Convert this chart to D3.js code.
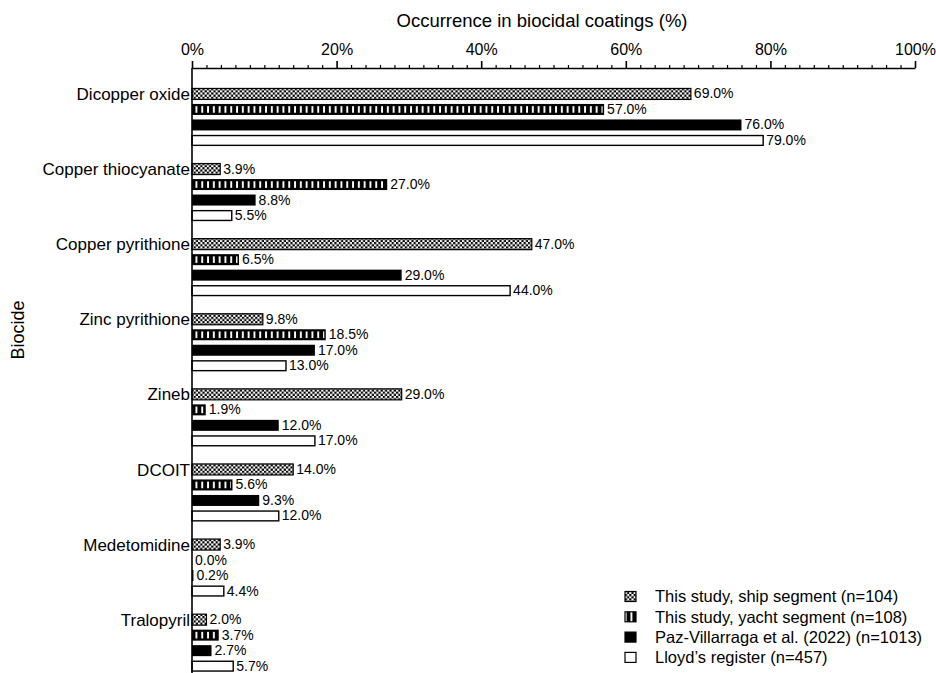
<!DOCTYPE html>
<html>
<head>
<meta charset="utf-8">
<script src="https://cdn.jsdelivr.net/npm/d3@7"></script>
<style>
  html, body { margin: 0; padding: 0; background: #fff; }
  svg { display: block; font-family: "Liberation Sans", Arial, Helvetica, sans-serif; }
</style>
</head>
<body>
<svg id="chart" width="936" height="673"></svg>
<script>
// Biocide occurrence data (%)
const biocides = ["Dicopper oxide", "Copper thiocyanate", "Copper pyrithione", "Zinc pyrithione",
                  "Zineb", "DCOIT", "Medetomidine", "Tralopyril"];
const seriesNames = ["This study, ship segment (n=104)", "This study, yacht segment (n=108)",
                     "Paz-Villarraga et al. (2022) (n=1013)", "Lloyd\u2019s register (n=457)"];
const shipSegment  = [69.0, 3.9, 47.0, 9.8, 29.0, 14.0, 3.9, 2.0];
const yachtSegment = [57.0, 27.0, 6.5, 18.5, 1.9, 5.6, 0.0, 3.7];
const pazVillarraga = [76.0, 8.8, 29.0, 17.0, 12.0, 9.3, 0.2, 2.7];
const lloydsRegister = [79.0, 5.5, 44.0, 13.0, 17.0, 12.0, 4.4, 5.7];
const xTickValues = [0, 20, 40, 60, 80, 100];

const seriesValues = [shipSegment, yachtSegment, pazVillarraga, lloydsRegister];
const seriesKeys = ["ship", "yacht", "paz", "lloyd"];

const svg = d3.select("#chart");
const defs = svg.append("defs");

// checkerboard fill
const checker = defs.append("pattern").attr("id", "pat-ship")
  .attr("patternUnits", "userSpaceOnUse").attr("width", 4.4).attr("height", 4.4);
checker.append("rect").attr("width", 4.4).attr("height", 4.4).attr("fill", "#fff");
checker.append("rect").attr("width", 2.2).attr("height", 2.2).attr("fill", "#000");
checker.append("rect").attr("x", 2.2).attr("y", 2.2).attr("width", 2.2).attr("height", 2.2).attr("fill", "#000");

// white vertical stripes over black
const stripes = defs.append("pattern").attr("id", "pat-yacht")
  .attr("patternUnits", "userSpaceOnUse").attr("x", 193.5).attr("width", 5.8).attr("height", 10);
stripes.append("rect").attr("width", 5.8).attr("height", 10).attr("fill", "#000");
stripes.append("rect").attr("x", 2).attr("width", 1.9).attr("height", 10).attr("fill", "#fff");

const x0 = 192, x1 = 915, axisY = 68;
const x = d3.scaleLinear().domain([0, 100]).range([x0, x1]);

const groupStep = 75.1;
const yGroup = d3.scaleBand().domain(biocides)
  .range([86.2, 86.2 + groupStep * biocides.length]).padding(0);
const ySeries = d3.scaleBand().domain(seriesKeys)
  .range([0, 62]).paddingInner(0.29).paddingOuter(0.145);

// top axis with major and minor ticks
const minorTicks = d3.range(0, 101, 2).filter(v => v % 20 !== 0);
svg.append("g").attr("transform", `translate(0,${axisY})`)
  .call(d3.axisTop(x).tickValues(minorTicks).tickSize(3).tickFormat(""))
  .call(g => g.select(".domain").remove())
  .call(g => g.selectAll("line").attr("stroke", "#000").attr("stroke-width", 1.2));

const xAxis = svg.append("g").attr("transform", `translate(0,${axisY})`)
  .call(d3.axisTop(x).tickValues(xTickValues).tickSize(7).tickSizeOuter(0).tickPadding(6)
    .tickFormat(d => d + "%"));
xAxis.select(".domain").attr("stroke", "#000").attr("stroke-width", 1.6);
xAxis.selectAll(".tick line").attr("stroke", "#000").attr("stroke-width", 1.6);
xAxis.selectAll(".tick text").attr("font-size", 16).attr("fill", "#000")
  .attr("font-family", "Liberation Sans, Arial, sans-serif");

svg.append("text").attr("x", 542).attr("y", 27).attr("text-anchor", "middle")
  .attr("font-size", 18.5).attr("fill", "#000").text("Occurrence in biocidal coatings (%)");

// bars
const rows = [];
biocides.forEach((b, i) => {
  seriesKeys.forEach((k, j) => rows.push({ biocide: b, key: k, value: seriesValues[j][i] }));
});

const barG = svg.append("g");
rows.forEach(d => {
  const y = yGroup(d.biocide) + ySeries(d.key);
  const h = ySeries.bandwidth();
  const w = x(d.value) - x(0);
  if (d.key === "ship") {
    barG.append("rect").attr("x", x(0)).attr("y", y).attr("width", w).attr("height", h)
      .attr("fill", "url(#pat-ship)").attr("stroke", "#000").attr("stroke-width", 1.2);
  } else if (d.key === "yacht") {
    barG.append("rect").attr("x", x(0)).attr("y", y).attr("width", w).attr("height", h)
      .attr("fill", "#000");
    if (w > 4) {
      barG.append("rect").attr("x", x(0) + 1.5).attr("y", y + 2.2)
        .attr("width", w - 3).attr("height", h - 4.4).attr("fill", "url(#pat-yacht)");
    }
  } else if (d.key === "paz") {
    barG.append("rect").attr("x", x(0)).attr("y", y).attr("width", w).attr("height", h)
      .attr("fill", "#000");
  } else {
    barG.append("rect").attr("x", x(0)).attr("y", y + 0.6).attr("width", w).attr("height", h - 1.2)
      .attr("fill", "#fff").attr("stroke", "#000").attr("stroke-width", 1.4);
  }
  barG.append("text").attr("x", x(d.value) + 3).attr("y", y + h / 2).attr("dy", "0.32em")
    .attr("font-size", 14).attr("fill", "#000").text(d.value.toFixed(1) + "%");
});

// left axis line and category labels
svg.append("line").attr("x1", x0).attr("x2", x0).attr("y1", axisY).attr("y2", 673)
  .attr("stroke", "#000").attr("stroke-width", 1.6);

svg.append("g").selectAll("text").data(biocides).join("text")
  .attr("x", x0 - 2)
  .attr("y", d => yGroup(d) + ySeries("ship") + ySeries.bandwidth() / 2)
  .attr("dy", "0.36em").attr("text-anchor", "end").attr("font-size", 17).attr("fill", "#000")
  .text(d => d);

svg.append("text").attr("transform", "translate(24,330) rotate(-90)")
  .attr("text-anchor", "middle").attr("font-size", 18).attr("fill", "#000").text("Biocide");

// legend
const legendFills = ["url(#pat-ship)", "url(#pat-yacht)", "#000", "#fff"];
const legend = svg.append("g");
seriesNames.forEach((name, i) => {
  const cy = 596.5 + i * 20.3;
  legend.append("rect").attr("x", 625).attr("y", cy - 5).attr("width", 11).attr("height", 10)
    .attr("fill", legendFills[i]).attr("stroke", "#000").attr("stroke-width", 1.2);
  legend.append("text").attr("x", 655).attr("y", cy).attr("dy", "0.36em")
    .attr("font-size", 16.5).attr("fill", "#000").text(name);
});
</script>
</body>
</html>
